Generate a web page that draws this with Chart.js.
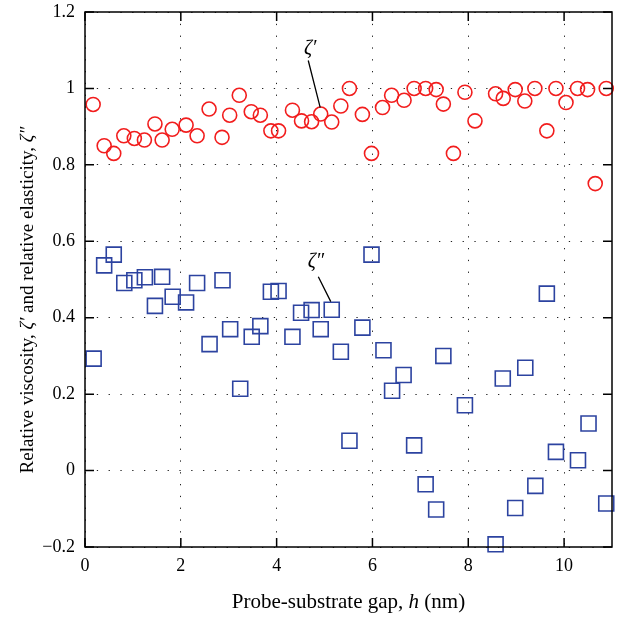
<!DOCTYPE html>
<html>
<head>
<meta charset="utf-8">
<script src="https://cdn.jsdelivr.net/npm/chart.js@4"></script>
<style>
  body { margin: 0; background: #fff; }
  canvas { display: block; }
</style>
</head>
<body>
<canvas id="grafico" width="618" height="617"></canvas>
<script>
// dados
const hRed = [0.17, 0.40, 0.60, 0.81, 1.03, 1.24, 1.46, 1.61, 1.82, 2.11,
  2.34, 2.59, 2.86, 3.02, 3.22, 3.47, 3.66, 3.88, 4.04, 4.33,
  4.52, 4.73, 4.92, 5.15, 5.34, 5.52, 5.79, 5.98, 6.21, 6.40,
  6.66, 6.87, 7.11, 7.33, 7.48, 7.69, 7.93, 8.14, 8.57, 8.73,
  8.98, 9.18, 9.39, 9.64, 9.83, 10.04, 10.28, 10.49, 10.65, 10.88];
const zetaP = [0.958, 0.85, 0.83, 0.876, 0.869, 0.865, 0.907, 0.865, 0.893, 0.904,
  0.876, 0.946, 0.872, 0.93, 0.982, 0.939, 0.93, 0.889, 0.889, 0.943,
  0.915, 0.913, 0.933, 0.912, 0.954, 1.0, 0.932, 0.83, 0.95, 0.982,
  0.969, 1.0, 1.0, 0.997, 0.959, 0.83, 0.99, 0.915, 0.986, 0.974,
  0.997, 0.967, 1.0, 0.889, 1.0, 0.963, 1.0, 0.997, 0.751, 1.0];

const hBlue = [0.18, 0.40, 0.60, 0.82, 1.03, 1.25, 1.46, 1.61, 1.83, 2.11,
  2.34, 2.60, 2.87, 3.03, 3.24, 3.48, 3.66, 3.88, 4.04, 4.33,
  4.51, 4.73, 4.92, 5.15, 5.34, 5.52, 5.79, 5.98, 6.23, 6.41,
  6.65, 6.87, 7.11, 7.33, 7.48, 7.93, 8.57, 8.72, 8.98, 9.19,
  9.40, 9.64, 9.83, 10.29, 10.51, 10.88];
const zetaPP = [0.293, 0.537, 0.565, 0.491, 0.498, 0.506, 0.431, 0.507, 0.455, 0.44,
  0.491, 0.331, 0.498, 0.37, 0.214, 0.35, 0.378, 0.468, 0.47, 0.35,
  0.413, 0.42, 0.37, 0.421, 0.311, 0.078, 0.374, 0.565, 0.315, 0.209,
  0.25, 0.066, -0.036, -0.102, 0.3, 0.171, -0.193, 0.241, -0.098, 0.269,
  -0.04, 0.463, 0.049, 0.027, 0.123, -0.086];

const xTicks = [0, 2, 4, 6, 8, 10];
const yTicks = [-0.2, 0, 0.2, 0.4, 0.6, 0.8, 1.0, 1.2];

const serif = "'Liberation Serif', 'DejaVu Serif', serif";

// desenha texto com partes em itálico
function drawParts(ctx, parts, size) {
  let total = 0;
  parts.forEach(p => {
    ctx.font = (p.it ? "italic " : "") + size + "px " + serif;
    total += ctx.measureText(p.t).width;
  });
  let x = -total / 2;
  parts.forEach(p => {
    ctx.font = (p.it ? "italic " : "") + size + "px " + serif;
    ctx.fillText(p.t, x, 0);
    x += ctx.measureText(p.t).width;
  });
}

const moldura = {
  id: "moldura",
  afterDatasetsDraw(chart) {
    const ctx = chart.ctx;
    const a = chart.chartArea;
    const sx = chart.scales.x, sy = chart.scales.y;
    ctx.save();
    ctx.strokeStyle = "#000";
    ctx.lineWidth = 1.5;
    ctx.strokeRect(a.left, a.top, a.right - a.left, a.bottom - a.top);
    ctx.beginPath();
    const tl = 9;
    xTicks.forEach(v => {
      const px = sx.getPixelForValue(v);
      ctx.moveTo(px, a.bottom); ctx.lineTo(px, a.bottom - tl);
      ctx.moveTo(px, a.top); ctx.lineTo(px, a.top + tl);
    });
    yTicks.forEach(v => {
      const py = sy.getPixelForValue(v);
      ctx.moveTo(a.left, py); ctx.lineTo(a.left + tl, py);
      ctx.moveTo(a.right, py); ctx.lineTo(a.right - tl, py);
    });
    ctx.stroke();

    // anotações ζ′ e ζ″
    ctx.lineWidth = 1.3;
    ctx.beginPath();
    ctx.moveTo(sx.getPixelForValue(4.66), sy.getPixelForValue(1.073));
    ctx.lineTo(sx.getPixelForValue(4.91), sy.getPixelForValue(0.95));
    ctx.moveTo(sx.getPixelForValue(4.87), sy.getPixelForValue(0.507));
    ctx.lineTo(sx.getPixelForValue(5.13), sy.getPixelForValue(0.442));
    ctx.stroke();
    ctx.fillStyle = "#000";
    ctx.textBaseline = "middle";
    ctx.font = "italic 20px " + serif;
    ctx.textAlign = "center";
    ctx.fillText("ζ′", sx.getPixelForValue(4.7), sy.getPixelForValue(1.105));
    ctx.fillText("ζ″", sx.getPixelForValue(4.82), sy.getPixelForValue(0.547));

    // títulos dos eixos
    ctx.textBaseline = "alphabetic";
    ctx.textAlign = "left";
    ctx.save();
    ctx.translate((a.left + a.right) / 2, 608);
    drawParts(ctx, [{ t: "Probe-substrate gap, " }, { t: "h", it: true }, { t: " (nm)" }], 21);
    ctx.restore();
    ctx.save();
    ctx.translate(33, 300);
    ctx.rotate(-Math.PI / 2);
    drawParts(ctx, [{ t: "Relative viscosity, " }, { t: "ζ′", it: true },
      { t: " and relative elasticity, " }, { t: "ζ″", it: true }], 19);
    ctx.restore();
    ctx.restore();
  }
};

const pontos = (xs, ys) => xs.map((x, i) => ({ x: x, y: ys[i] }));

const eixo = {
  border: { display: false, dash: [1.3, 10.5] },
  grid: { color: "#222", lineWidth: 1, drawTicks: false },
};

const config_grafico = {
  type: "scatter",
  data: {
    datasets: [
      {
        label: "ζ′",
        data: pontos(hRed, zetaP),
        pointStyle: "circle",
        pointRadius: 7,
        pointHoverRadius: 7,
        borderColor: "#f21d1d",
        backgroundColor: "rgba(0,0,0,0)",
        borderWidth: 1.6,
        clip: false,
      },
      {
        label: "ζ″",
        data: pontos(hBlue, zetaPP),
        pointStyle: "rect",
        pointRadius: 10.6,
        pointHoverRadius: 10.6,
        borderColor: "#2c43a0",
        backgroundColor: "rgba(0,0,0,0)",
        borderWidth: 1.6,
        clip: false,
      },
    ],
  },
  options: {
    responsive: false,
    animation: false,
    layout: { autoPadding: false, padding: { top: 12, right: 6, left: 0, bottom: 0 } },
    plugins: {
      legend: { display: false },
      tooltip: { enabled: false },
    },
    scales: {
      x: {
        type: "linear",
        min: 0,
        max: 11,
        afterBuildTicks: (s) => { s.ticks = xTicks.map(v => ({ value: v })); },
        afterFit: (s) => { s.height = 70; s.paddingLeft = 0; s.paddingRight = 0; },
        ...eixo,
        ticks: {
          padding: 8,
          color: "#000",
          font: { family: serif, size: 18 },
          maxRotation: 0,
        },
      },
      y: {
        type: "linear",
        min: -0.2,
        max: 1.2,
        afterBuildTicks: (s) => { s.ticks = yTicks.map(v => ({ value: v })); },
        afterFit: (s) => { s.width = 85; s.paddingTop = 0; s.paddingBottom = 0; },
        ...eixo,
        ticks: {
          padding: 10,
          color: "#000",
          font: { family: serif, size: 18 },
          callback: (v) => (v < 0 ? "\u2212" + Math.abs(v) : String(Math.round(v * 10) / 10)),
        },
      },
    },
  },
  plugins: [moldura],
};

const myChart = new Chart(document.getElementById("grafico"), config_grafico);
</script>
</body>
</html>
